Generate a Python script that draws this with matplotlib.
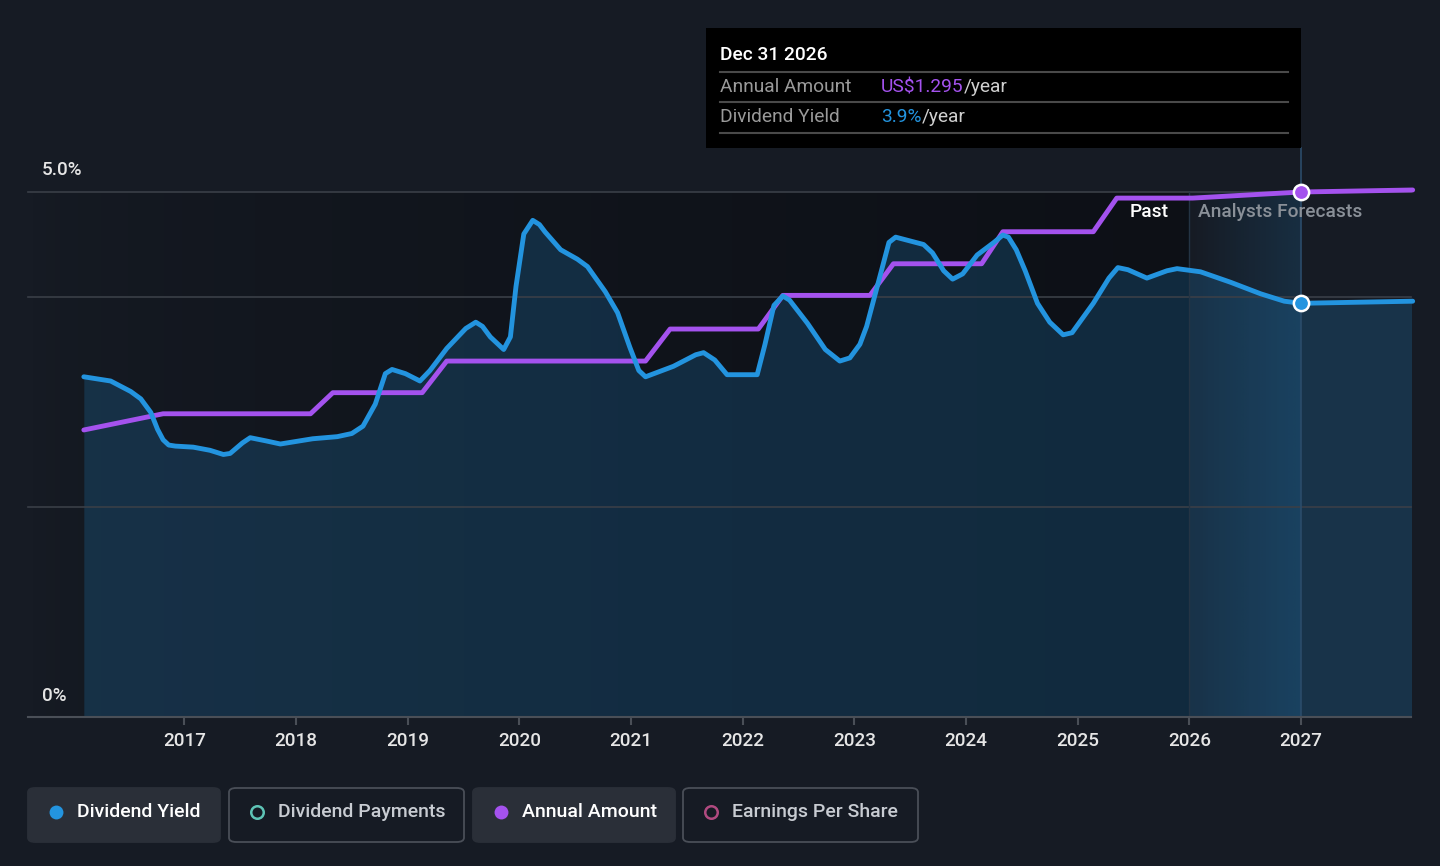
import numpy as np
import matplotlib
matplotlib.use("Agg")
import matplotlib.pyplot as plt
from matplotlib.patches import FancyBboxPatch, Rectangle
from matplotlib.lines import Line2D

plt.rcParams['font.family'] = ['Roboto', 'DejaVu Sans']

# dividend yield (%), x in decimal years
yield_years = [2016.10, 2016.34, 2016.52, 2016.61, 2016.70, 2016.76, 2016.81, 2016.86,
               2016.92, 2017.08, 2017.23, 2017.35, 2017.41, 2017.52, 2017.59, 2017.73,
               2017.86, 2018.15, 2018.37, 2018.50, 2018.60, 2018.71, 2018.80, 2018.86,
               2018.98, 2019.11, 2019.20, 2019.35, 2019.52, 2019.61, 2019.67, 2019.74,
               2019.86, 2019.92, 2019.97, 2020.04, 2020.12, 2020.18, 2020.23, 2020.37,
               2020.52, 2020.61, 2020.77, 2020.88, 2020.99, 2021.07, 2021.13, 2021.38,
               2021.58, 2021.65, 2021.75, 2021.86, 2022.13, 2022.20, 2022.28, 2022.36,
               2022.42, 2022.58, 2022.74, 2022.87, 2022.96, 2023.05, 2023.11, 2023.23,
               2023.31, 2023.37, 2023.62, 2023.70, 2023.80, 2023.88, 2023.97, 2024.10,
               2024.25, 2024.33, 2024.38, 2024.45, 2024.53, 2024.64, 2024.75, 2024.87,
               2024.95, 2025.14, 2025.28, 2025.36, 2025.45, 2025.62, 2025.80, 2025.89,
               2026.10, 2026.37, 2026.64, 2026.85, 2027.00, 2028.00]
yield_pct = [3.24, 3.20, 3.10, 3.03, 2.90, 2.74, 2.64, 2.59,
             2.58, 2.57, 2.54, 2.50, 2.51, 2.61, 2.66, 2.63,
             2.60, 2.65, 2.67, 2.70, 2.77, 2.98, 3.27, 3.31,
             3.27, 3.20, 3.30, 3.51, 3.70, 3.76, 3.72, 3.62,
             3.50, 3.62, 4.10, 4.60, 4.73, 4.69, 4.62, 4.45,
             4.36, 4.29, 4.05, 3.85, 3.52, 3.30, 3.24, 3.34,
             3.45, 3.47, 3.40, 3.26, 3.26, 3.55, 3.92, 4.01,
             3.97, 3.75, 3.50, 3.39, 3.42, 3.55, 3.72, 4.20,
             4.52, 4.57, 4.50, 4.42, 4.25, 4.17, 4.22, 4.40,
             4.52, 4.59, 4.57, 4.45, 4.25, 3.94, 3.76, 3.64,
             3.66, 3.94, 4.18, 4.28, 4.26, 4.18, 4.25, 4.27,
             4.24, 4.14, 4.03, 3.96, 3.94, 3.96]

# annual dividend amount (US$)
amount_years = [2016.10, 2016.81, 2018.13, 2018.33, 2019.13, 2019.35, 2021.13, 2021.35,
                2022.14, 2022.36, 2023.14, 2023.35, 2024.14, 2024.33, 2025.14, 2025.35,
                2026.03, 2027.00, 2028.00]
amount_usd = [0.708, 0.748, 0.748, 0.80, 0.80, 0.878, 0.878, 0.957,
              0.957, 1.04, 1.04, 1.118, 1.118, 1.197, 1.197, 1.28,
              1.28, 1.295, 1.30]

tick_years = list(range(2017, 2028))
forecast_start = 2026
forecast_end = 2027

BG = '#161b24'
BLUE = '#2394df'
PURPLE = '#a452ee'
GRID = '#3a3f47'
FS = 13.8

W, H = 1440, 866
fig = plt.figure(figsize=(W / 100, H / 100), dpi=100, facecolor=BG)


def fx(px):
    return px / W


def fy(py):
    return 1 - py / H


ax = fig.add_axes([fx(28), fy(717), fx(1411) - fx(28), fy(192) - fy(717)])
ax.set_facecolor(BG)
xmin, xmax = 2015.6, 2027.985
ax.set_xlim(xmin, xmax)
ax.set_ylim(0, 5)

# darker "past" region, fading in from the left
grad = np.zeros((2, 256, 4))
grad[..., :3] = np.array([12, 15, 21]) / 255
grad[..., 3] = np.linspace(0, 0.85, 256) ** 0.6
ax.imshow(grad, extent=(xmin, forecast_start, 0, 5), aspect='auto', zorder=0.5)

# forecast band
band = np.zeros((2, 256, 4))
band[..., :3] = np.array([35, 148, 223]) / 255
band[..., 3] = np.linspace(0.0, 0.16, 256)
ax.imshow(band, extent=(forecast_start, forecast_end, 0, 5), aspect='auto', zorder=0.6)

ax.fill_between(yield_years, 0, yield_pct, color=BLUE, alpha=0.2, lw=0, zorder=1)

for g in [2, 4, 5]:
    ax.axhline(g, color=GRID, lw=1.2, zorder=1.5, clip_on=False)
ax.axvline(forecast_start, color='#243444', lw=1, zorder=1.6)
ax.axvline(forecast_end, ymin=0, ymax=(717 - 148) / 525, color='#2b4c6a', lw=1.2,
           zorder=1.6, clip_on=False)

for s in ['top', 'right', 'left']:
    ax.spines[s].set_visible(False)
ax.spines['bottom'].set_color('#4a4f57')
ax.spines['bottom'].set_linewidth(1.5)
ax.set_yticks([])
ax.set_xticks(tick_years)
ax.set_xticklabels([str(y) for y in tick_years], fontweight='medium')
ax.tick_params(axis='x', colors='#4a4f57', length=6, width=1.5, pad=4.5,
               labelcolor='#e6e6e6', labelsize=13.6)

ax2 = ax.twinx()
ax2.set_ylim(0, 525 / 405.4)
ax2.set_xlim(xmin, xmax)
ax2.axis('off')
ax2.plot(amount_years, amount_usd, color=PURPLE, lw=3.5, solid_capstyle='round',
         solid_joinstyle='round', clip_on=False, zorder=2)
ax2.plot(yield_years, yield_pct, color=BLUE, lw=3.5, transform=ax.transData,
         solid_capstyle='round', solid_joinstyle='round', clip_on=False, zorder=3)
i27 = amount_years.index(2027.00)
ax2.plot([amount_years[i27]], [amount_usd[i27]], 'o', ms=11, mfc=PURPLE, mec='white',
         mew=1.8, clip_on=False, zorder=5)
j27 = yield_years.index(2027.00)
ax2.plot([yield_years[j27]], [yield_pct[j27]], 'o', ms=11, mfc=BLUE, mec='white',
         mew=1.8, transform=ax.transData, clip_on=False, zorder=5)

# y labels
fig.text(fx(42), fy(170), '5.0%', color='#e6e6e6', fontsize=13.6, fontweight='medium',
         va='center', ha='left')
fig.text(fx(42), fy(696), '0%', color='#e6e6e6', fontsize=13.6, fontweight='medium',
         va='center', ha='left')

# past / forecast labels
fig.text(fx(1169), fy(212), 'Past', color='white', fontsize=FS, fontweight='medium',
         va='center', ha='right')
fig.text(fx(1198), fy(212), 'Analysts Forecasts', color='#8a9098', fontsize=FS,
         fontweight='medium', va='center', ha='left')

# tooltip
fig.patches.append(Rectangle((fx(706), fy(148)), fx(1301) - fx(706), fy(28) - fy(148),
                             transform=fig.transFigure, facecolor='black', edgecolor='none',
                             zorder=10))
for ly in [72, 102, 133]:
    fig.lines.append(Line2D([fx(720), fx(1288)], [fy(ly), fy(ly)], transform=fig.transFigure,
                            color='#4a4a4a', lw=1.5, zorder=11))
fig.text(fx(720), fy(55), 'Dec 31 2026', color='white', fontsize=FS, fontweight='medium',
         va='center', zorder=12)
fig.text(fx(720), fy(87), 'Annual Amount', color='#9a9a9a', fontsize=FS, va='center',
         zorder=12)
fig.text(fx(720), fy(117), 'Dividend Yield', color='#9a9a9a', fontsize=FS, va='center',
         zorder=12)
renderer = fig.canvas.get_renderer()
t1 = fig.text(fx(881), fy(87), 'US$1.295', color=PURPLE, fontsize=FS, va='center', zorder=12)
t2 = fig.text(fx(881), fy(117), '3.9%', color=BLUE, fontsize=FS, va='center', zorder=12)
for t, yy in [(t1, 87), (t2, 117)]:
    bb = t.get_window_extent(renderer)
    fig.text(bb.x1 / W, fy(yy), '/year', color='#d0d0d0', fontsize=FS, va='center',
             zorder=12)

# legend buttons
legend_items = [
    ('Dividend Yield', 28, 220, True, BLUE, True),
    ('Dividend Payments', 229, 464, False, '#5ec4b6', False),
    ('Annual Amount', 473, 675, True, PURPLE, True),
    ('Earnings Per Share', 683, 918, False, '#b04a80', False),
]
for label, x0, x1, active, col, filled in legend_items:
    box = FancyBboxPatch((fx(x0), fy(842)), fx(x1) - fx(x0), fy(788) - fy(842),
                         boxstyle='round,pad=0,rounding_size=0.005',
                         transform=fig.transFigure,
                         facecolor='#2a2f38' if active else BG,
                         edgecolor='#2a2f38' if active else '#4a4f58', lw=1.3)
    fig.patches.append(box)
    fig.lines.append(Line2D([fx(x0 + 28)], [fy(812)], transform=fig.transFigure, marker='o',
                            ms=10 if filled else 9, mfc=col if filled else 'none', mec=col,
                            mew=0 if filled else 1.8, ls='none'))
    fig.text(fx(x0 + 49), fy(812), label, color='white' if active else '#c8ccd2',
             fontsize=14, fontweight='medium', va='center', ha='left')

fig.savefig('out.png', dpi=100, facecolor=BG)
